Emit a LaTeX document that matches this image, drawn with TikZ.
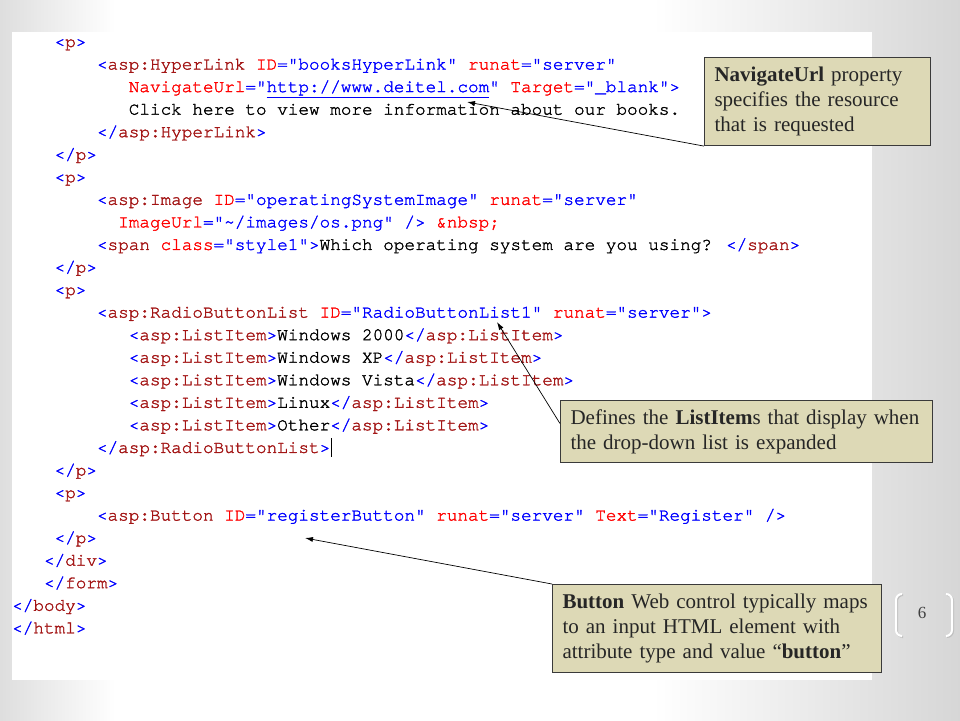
\documentclass[tikz,border=0pt]{standalone}
\usepackage{fontspec}
\setmainfont{Liberation Serif}
\newfontfamily\codefont[UprightFeatures={FakeBold=1.6}]{TeX Gyre Cursor}
\usetikzlibrary{arrows.meta}

\definecolor{codeblue}{HTML}{0000FF}
\definecolor{codemaroon}{HTML}{A31515}
\definecolor{codered}{HTML}{FF0000}
\definecolor{notefill}{HTML}{DDD9B6}
\definecolor{noteline}{HTML}{3A3A3A}
\pgfdeclarehorizontalshading{slidebg}{100bp}{color(0bp)=(black!13); color(25bp)=(black!13); color(31bp)=(white); color(59bp)=(white); color(75bp)=(black!16); color(100bp)=(black!16)}

\newcommand{\cBr}[1]{\textcolor{codeblue}{#1}}
\newcommand{\cTg}[1]{\textcolor{codemaroon}{#1}}
\newcommand{\cAt}[1]{\textcolor{codered}{#1}}
\newcommand{\otag}[1]{\cBr{<}\cTg{#1}}
\newcommand{\ctag}[1]{\cBr{</}\cTg{#1}\cBr{>}}
\newcommand{\attr}[2]{\cAt{#1}\cBr{="#2"}}
\newcommand{\codeln}[3]{\node[code line] (ln#1) at ({12+#2*10.6},{47+#1*22.55}) {#3};}

\begin{document}
\begin{tikzpicture}[x=1pt, y=-1pt, code line/.style={anchor=base west, inner sep=0pt, font=\codefont\fontsize{17.67}{20}\selectfont}, note node/.style={draw=noteline, line width=1.1pt, fill=notefill, text=black!85, font=\fontsize{21}{25}\selectfont, align=left, inner xsep=10pt, inner ysep=0pt, anchor=north west}, pointer/.style={-{Latex[length=8pt, width=5pt]}, line width=0.7pt, black}]
\shade[shading=slidebg] (0,0) rectangle (960,720);
\useasboundingbox (0,0) rectangle (960,720);
\fill[white] (12,32) rectangle (872,680);

\codeln{0}{4}{\otag{p}\cBr{>}}
\codeln{1}{8}{\otag{asp:HyperLink} \attr{ID}{booksHyperLink} \attr{runat}{server}}
\codeln{2}{11}{\cAt{NavigateUrl}\cBr{="\underline{http://www.deitel.com}"} \attr{Target}{\_blank}\cBr{>}}
\codeln{3}{11}{Click here to view more information about our books.}
\codeln{4}{8}{\ctag{asp:HyperLink}}
\codeln{5}{4}{\ctag{p}}
\codeln{6}{4}{\otag{p}\cBr{>}}
\codeln{7}{8}{\otag{asp:Image} \attr{ID}{operatingSystemImage} \attr{runat}{server}}
\codeln{8}{10}{\attr{ImageUrl}{\textasciitilde/images/os.png} \cBr{/>} \cAt{\&nbsp;}}
\codeln{9}{8}{\otag{span} \attr{class}{style1}\cBr{>}Which operating system are you using? \ctag{span}}
\codeln{10}{4}{\ctag{p}}
\codeln{11}{4}{\otag{p}\cBr{>}}
\codeln{12}{8}{\otag{asp:RadioButtonList} \attr{ID}{RadioButtonList1} \attr{runat}{server}\cBr{>}}
\codeln{13}{11}{\otag{asp:ListItem}\cBr{>}Windows 2000\ctag{asp:ListItem}}
\codeln{14}{11}{\otag{asp:ListItem}\cBr{>}Windows XP\ctag{asp:ListItem}}
\codeln{15}{11}{\otag{asp:ListItem}\cBr{>}Windows Vista\ctag{asp:ListItem}}
\codeln{16}{11}{\otag{asp:ListItem}\cBr{>}Linux\ctag{asp:ListItem}}
\codeln{17}{11}{\otag{asp:ListItem}\cBr{>}Other\ctag{asp:ListItem}}
\codeln{18}{8}{\ctag{asp:RadioButtonList}}
\codeln{19}{4}{\ctag{p}}
\codeln{20}{4}{\otag{p}\cBr{>}}
\codeln{21}{8}{\otag{asp:Button} \attr{ID}{registerButton} \attr{runat}{server} \attr{Text}{Register} \cBr{/>}}
\codeln{22}{4}{\ctag{p}}
\codeln{23}{3}{\ctag{div}}
\codeln{24}{3}{\ctag{form}}
\codeln{25}{0}{\ctag{body}}
\codeln{26}{0}{\ctag{html}}
\draw[black, line width=1pt] (331,438) -- (331,457);

\node[note node, text width=206pt, minimum height=88pt] (navnote) at (704,57) {\textbf{NavigateUrl} property\\specifies the resource\\that is requested};
\node[note node, text width=352pt, minimum height=62pt] (listnote) at (560,400) {Defines the \textbf{ListItem}s that display when\\the drop-down list is expanded};
\node[note node, text width=309pt, minimum height=88pt] (buttonnote) at (552,584) {\textbf{Button} Web control typically maps\\to an input HTML element with\\attribute type and value “\textbf{button}”};

\coordinate (navtip) at (467,102);
\coordinate (listtip) at (497,322);
\coordinate (buttontip) at (305,538);
\draw[pointer] (navnote.south west) -- (navtip);
\draw[pointer] ([yshift=8pt]listnote.west) -- (listtip);
\draw[pointer] (buttonnote.north west) -- (buttontip);

\node[text=black!75, font=\fontsize{17}{18}\selectfont] (pagenum) at (922,613) {6};
\draw[black!25, line width=2pt, rounded corners=6pt] (902,595) -- (897,595) -- (897,637) -- (902,637);
\draw[white, line width=2pt, rounded corners=6pt] (901,594) -- (896,594) -- (896,636) -- (901,636);
\draw[black!25, line width=2pt, rounded corners=6pt] (947,595) -- (953,595) -- (953,637) -- (947,637);
\draw[white, line width=2pt, rounded corners=6pt] (946,594) -- (952,594) -- (952,636) -- (946,636);
\end{tikzpicture}
\end{document}
